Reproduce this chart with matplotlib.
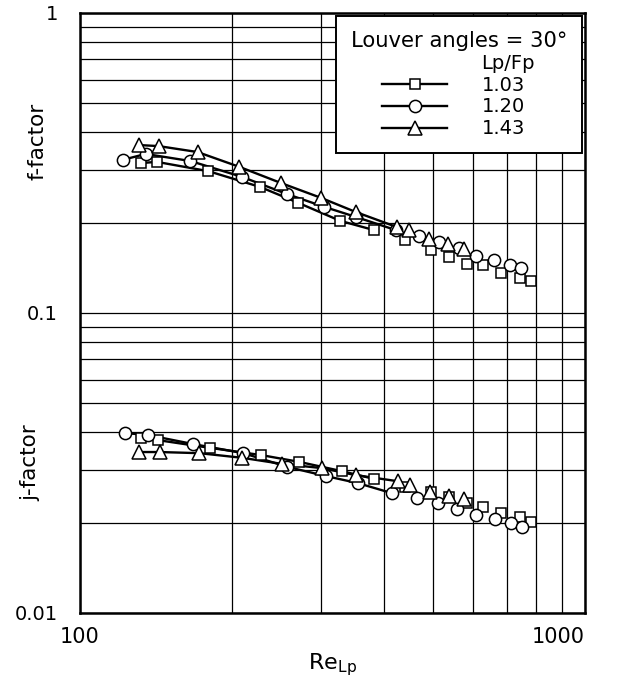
import matplotlib
matplotlib.use("Agg")
import matplotlib.pyplot as plt
import numpy as np
from matplotlib.lines import Line2D
from matplotlib.ticker import FixedLocator, NullFormatter, LogLocator

plt.rcParams['font.family'] = ['DejaVu Sans']

# ---- data ----
labels = ["1.03", "1.20", "1.43"]

f_re_103 = [131.9, 141.9, 179.6, 227.5, 270.4, 327.2, 381.8, 439.5, 494.6, 536.9, 582.7, 629.3, 682.9, 744.3, 782.4]
f_103 = [0.316, 0.319, 0.297, 0.263, 0.233, 0.203, 0.189, 0.175, 0.162, 0.154, 0.146, 0.1445, 0.136, 0.131, 0.128]

f_re_120 = [121.6, 134.9, 165.5, 209.7, 257.2, 304.2, 351.8, 421.9, 468.3, 513.0, 561.9, 609.6, 661.5, 711.4, 747.7]
f_120 = [0.324, 0.339, 0.321, 0.284, 0.249, 0.226, 0.209, 0.189, 0.1805, 0.172, 0.165, 0.155, 0.150, 0.1445, 0.141]

f_re_143 = [130.7, 143.2, 170.9, 206.8, 250.3, 300.1, 351.8, 423.8, 447.6, 490.1, 534.4, 574.8]
f_143 = [0.363, 0.360, 0.344, 0.307, 0.271, 0.242, 0.217, 0.1935, 0.189, 0.176, 0.170, 0.163]

j_re_103 = [131.9, 142.5, 181.3, 228.6, 271.6, 330.2, 381.8, 439.5, 494.6, 536.9, 582.7, 629.3, 682.9, 744.3, 782.4]
j_103 = [0.0383, 0.0377, 0.0355, 0.0336, 0.0319, 0.0297, 0.0280, 0.0264, 0.0253, 0.0244, 0.0233, 0.0226, 0.0215, 0.0209, 0.0201]

j_re_120 = [122.7, 136.2, 167.1, 210.6, 257.2, 307.0, 355.0, 414.2, 464.1, 510.6, 556.8, 609.6, 664.5, 714.5, 751.1]
j_120 = [0.0398, 0.0392, 0.0366, 0.0341, 0.0307, 0.0286, 0.0271, 0.0251, 0.0242, 0.0233, 0.0222, 0.0212, 0.0206, 0.0200, 0.0194]

j_re_143 = [130.7, 143.8, 172.4, 209.7, 251.4, 301.5, 351.8, 425.7, 449.6, 492.4, 536.9, 574.8]
j_143 = [0.0344, 0.0344, 0.0341, 0.0329, 0.0314, 0.0304, 0.0288, 0.0275, 0.0267, 0.0253, 0.0245, 0.0240]

x_ticks = [100, 1000]
x_ticklabels = ["100", "1000"]
y_ticks = [0.01, 0.1, 1]
y_ticklabels = ["0.01", "0.1", "1"]

# ---- figure ----
fig = plt.figure(figsize=(6.33, 6.79), dpi=100)
ax = fig.add_axes([80/633, 1-613/679, 505/633, 600/679])
ax.set_xscale('log')
ax.set_yscale('log')
ax.set_xlim(100, 1000)
ax.set_ylim(0.01, 1)

line_cut = 430  # fitted lines only drawn over the lower Re range

markers = ['s', 'o', '^']
msizes = [7.5, 8.8, 10.0]
series = [
    (f_re_103, f_103, j_re_103, j_103),
    (f_re_120, f_120, j_re_120, j_120),
    (f_re_143, f_143, j_re_143, j_143),
]

for (fx, fy, jx, jy) in series:
    for xs, ys in ((fx, fy), (jx, jy)):
        xs = np.asarray(xs); ys = np.asarray(ys)
        m = xs <= line_cut
        ax.plot(xs[m], ys[m], '-', color='black', lw=1.7, zorder=3)

for (fx, fy, jx, jy), mk, ms in zip(series, markers, msizes):
    for xs, ys in ((fx, fy), (jx, jy)):
        ax.plot(xs, ys, linestyle='none', marker=mk, ms=ms, mfc='white',
                mec='black', mew=1.1, zorder=4)

# grid
ax.xaxis.set_major_locator(FixedLocator(x_ticks))
ax.xaxis.set_minor_locator(LogLocator(base=10, subs=np.arange(2, 10)))
ax.yaxis.set_major_locator(FixedLocator(y_ticks))
ax.yaxis.set_minor_locator(LogLocator(base=10, subs=np.arange(2, 10)))
ax.xaxis.set_minor_formatter(NullFormatter())
ax.yaxis.set_minor_formatter(NullFormatter())
ax.set_xticklabels(x_ticklabels)
ax.set_yticklabels(y_ticklabels)
ax.grid(True, which='both', color='black', lw=0.9)
ax.set_axisbelow(True)
ax.tick_params(which='both', length=0)
ax.tick_params(axis='y', labelsize=14, pad=16)
ax.tick_params(axis='x', labelsize=15, pad=10)
for lbl in ax.get_xticklabels():
    if lbl.get_text() == "1000":
        lbl.set_horizontalalignment('right')
for s in ax.spines.values():
    s.set_linewidth(1.8)

ax.set_xlabel(r"Re$_{\mathregular{Lp}}$", fontsize=16, labelpad=3)

fig.text(37/633, 1-141/679, "f-factor", rotation=90, ha='center', va='center', fontsize=15.5)
fig.text(30/633, 1-463/679, "j-factor", rotation=90, ha='center', va='center', fontsize=15.5)

# legend
handles = [Line2D([], [], color='none', marker='none')]
handles += [Line2D([], [], color='black', lw=1.7, marker=mk, ms=ms, mfc='white', mec='black', mew=1.1)
            for mk, ms in zip(markers, msizes)]
leg = ax.legend(handles, ["Lp/Fp"] + labels, title="Louver angles = 30°",
                loc='upper right', bbox_to_anchor=(0.997, 0.998), fontsize=14,
                title_fontsize=15.2, frameon=True, fancybox=False, edgecolor='black',
                framealpha=1, handlelength=3.3, handletextpad=1.8, labelspacing=0.15,
                borderpad=0.75, borderaxespad=0.1, numpoints=1)
leg.get_frame().set_linewidth(1.4)
leg.set_zorder(10)

fig.savefig("out.png", dpi=100, facecolor='white')
